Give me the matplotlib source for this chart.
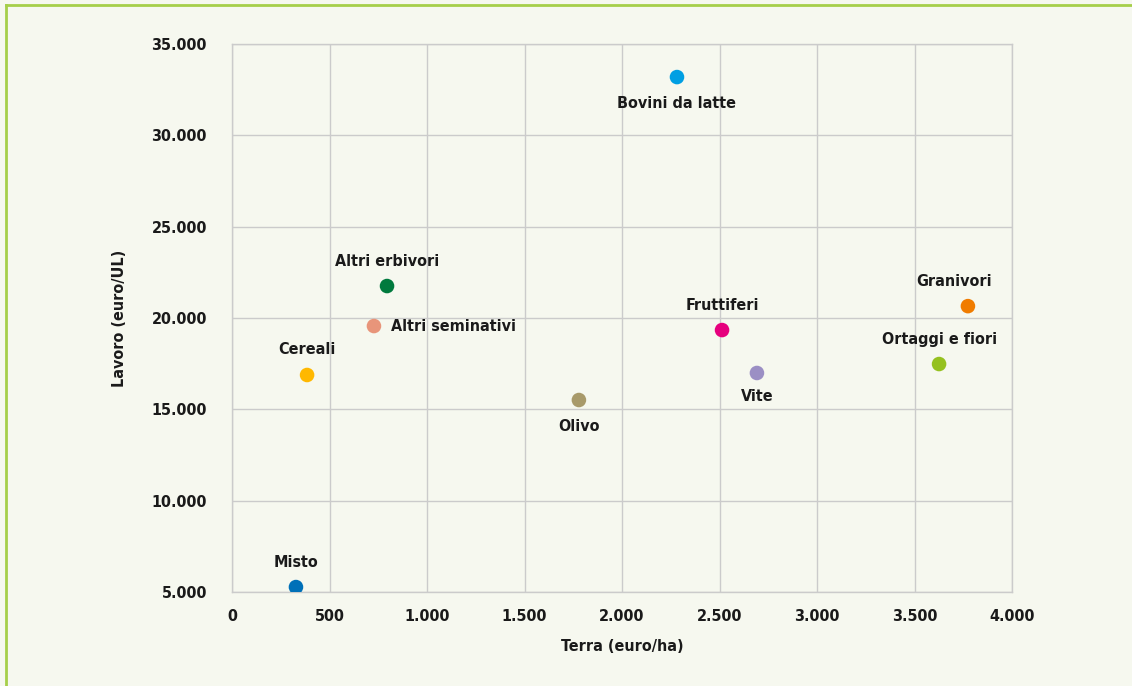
import matplotlib
matplotlib.use("Agg")
import matplotlib.pyplot as plt
from matplotlib.ticker import FuncFormatter
from matplotlib.lines import Line2D

plt.rcParams['font.family'] = ['DejaVu Sans']
plt.rcParams['font.stretch'] = 'condensed'
plt.rcParams['font.weight'] = 'bold'
plt.rcParams['axes.labelweight'] = 'bold'

# Dati: Terra (euro/ha), Lavoro (euro/UL)
categorie = ["Misto", "Cereali", "Altri seminativi", "Altri erbivori", "Olivo",
             "Bovini da latte", "Fruttiferi", "Vite", "Ortaggi e fiori", "Granivori"]
terra = [328, 385, 728, 795, 1779, 2282, 2513, 2692, 3626, 3774]
lavoro = [5270, 16880, 19560, 21750, 15510, 33190, 19340, 16990, 17480, 20650]
colori = ["#0070b8", "#ffb800", "#e8957a", "#007a3d", "#a89a6a",
          "#009fe3", "#e6007e", "#9b8fc4", "#95c11f", "#f07c00"]

# posizione etichette: (dx, dy, ha) in punti
pos_etichette = {
    "Bovini da latte": (0, -19, "center"),
    "Olivo": (0, -19, "center"),
    "Vite": (0, -17, "center"),
    "Altri seminativi": (12, 0, "left"),
    "Granivori": (-10, 18, "center"),
}

testo = "#1a1a1a"
bg = "#f6f8ef"
fig = plt.figure(figsize=(11.32, 6.86), dpi=100)
fig.patch.set_facecolor(bg)
ax = fig.add_axes([232 / 1132, 1 - 592 / 686, 780 / 1132, 548 / 686])
ax.set_facecolor(bg)

ax.scatter(terra, lavoro, s=110, c=colori, zorder=3, linewidths=0)

for nome, x, y in zip(categorie, terra, lavoro):
    dx, dy, ha = pos_etichette.get(nome, (0, 18, "center"))
    ax.annotate(nome, (x, y), xytext=(dx, dy), textcoords="offset points",
                ha=ha, va="center", fontsize=11.5, color=testo, zorder=4)

ax.set_xlim(0, 4000)
ax.set_ylim(5000, 35000)
ax.set_xticks(range(0, 4001, 500))
ax.set_yticks(range(5000, 35001, 5000))
fmt = FuncFormatter(lambda v, p: f"{int(v):,}".replace(",", "."))
ax.xaxis.set_major_formatter(fmt)
ax.yaxis.set_major_formatter(fmt)
ax.grid(True, color="#cbcbcb", linewidth=1)
ax.set_axisbelow(True)
for s in ax.spines.values():
    s.set_color("#cbcbcb")
    s.set_linewidth(1)
ax.tick_params(length=0, labelsize=11.5, colors=testo)
ax.tick_params(axis="x", pad=12)
ax.tick_params(axis="y", pad=18)

ax.set_xlabel("Terra (euro/ha)", fontsize=11.5, color=testo, labelpad=11)
ax.set_ylabel("Lavoro (euro/UL)", fontsize=11.5, color=testo, labelpad=18)

# bordo verde in alto e a sinistra
fig.add_artist(Line2D([5.5 / 1132, 1], [1 - 5 / 686, 1 - 5 / 686], color="#a6cf4a", linewidth=2))
fig.add_artist(Line2D([5.5 / 1132, 5.5 / 1132], [0, 1 - 5 / 686], color="#a6cf4a", linewidth=2))

fig.savefig("out.png", dpi=100, facecolor=bg)
